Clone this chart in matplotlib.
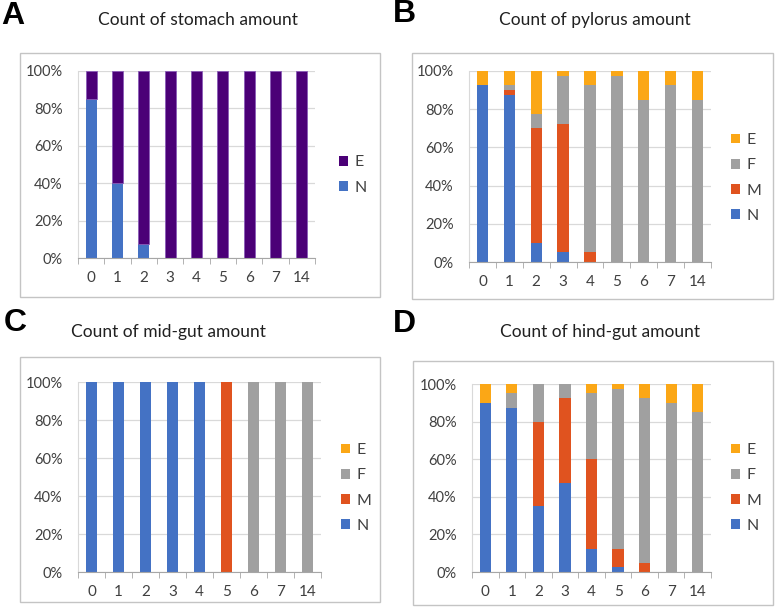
import matplotlib
matplotlib.use("Agg")
import matplotlib.pyplot as plt
import numpy as np
from matplotlib.patches import Rectangle, Patch

plt.rcParams['font.family'] = ['Lato', 'DejaVu Sans']

W, H = 776, 610

DAYS = ["0", "1", "2", "3", "4", "5", "6", "7", "14"]

# stomach (A)
A_N = [85, 40, 7.5, 0, 0, 0, 0, 0, 0]
A_E = [15, 60, 92.5, 100, 100, 100, 100, 100, 100]

# pylorus (B)
B_N = [92.5, 87.5, 10, 5, 0, 0, 0, 0, 0]
B_M = [0, 2.5, 60, 67.5, 5, 0, 0, 0, 0]
B_F = [0, 2.5, 7.5, 25, 87.5, 97.5, 85, 92.5, 85]
B_E = [7.5, 7.5, 22.5, 2.5, 7.5, 2.5, 15, 7.5, 15]

# mid-gut (C)
C_N = [100, 100, 100, 100, 100, 0, 0, 0, 0]
C_M = [0, 0, 0, 0, 0, 100, 0, 0, 0]
C_F = [0, 0, 0, 0, 0, 0, 100, 100, 100]
C_E = [0, 0, 0, 0, 0, 0, 0, 0, 0]

# hind-gut (D)
D_N = [90, 87.5, 35, 47.5, 12.5, 2.5, 0, 0, 0]
D_M = [0, 0, 45, 45, 47.5, 10, 5, 0, 0]
D_F = [0, 7.5, 20, 7.5, 35, 85, 87.5, 90, 85]
D_E = [10, 5, 0, 0, 5, 2.5, 7.5, 10, 15]

COL = {"N": "#4472C4", "M": "#E0531F", "F": "#A0A0A0", "E": "#FBA716"}
PURPLE = "#4B0077"

fig = plt.figure(figsize=(W / 100, H / 100), dpi=100)


def fx(px):
    return px / W


def fy(py):
    return 1 - py / H


def add_box(l, t, r, b):
    fig.patches.append(Rectangle((fx(l), fy(b)), fx(r) - fx(l), fy(t) - fy(b),
                                 transform=fig.transFigure, fill=False,
                                 edgecolor="#C4C4C4", lw=1.0))


def make_axes(l, t, r, b):
    ax = fig.add_axes([fx(l), fy(b), fx(r) - fx(l), fy(t) - fy(b)])
    ax.set_xlim(-0.5, 8.5)
    ax.set_ylim(0, 100)
    ax.set_yticks(range(0, 101, 20))
    ax.set_yticklabels(["{}%".format(v) for v in range(0, 101, 20)])
    ax.set_xticks(range(9))
    ax.set_xticklabels(DAYS)
    ax.set_xticks(np.arange(-0.5, 9, 1), minor=True)
    ax.tick_params(axis="x", which="major", length=0, pad=9, labelsize=11, colors="#404040")
    ax.tick_params(axis="x", which="minor", length=4, color="#A6A6A6", direction="out")
    ax.tick_params(axis="y", length=0, pad=11, labelsize=10.5, colors="#404040")
    ax.grid(axis="y", color="#D9D9D9", lw=0.9)
    ax.set_axisbelow(True)
    for s in ["top", "right"]:
        ax.spines[s].set_visible(False)
    ax.spines["left"].set_color("#D9D9D9")
    ax.spines["bottom"].set_color("#A6A6A6")
    return ax


def stack(ax, series, colors, edges=None):
    x = np.arange(len(DAYS))
    bottom = np.zeros(len(DAYS))
    for i, (vals, c) in enumerate(zip(series, colors)):
        ec = edges[i] if edges else "none"
        ax.bar(x, vals, 0.42, bottom=bottom, color=c, edgecolor=ec, lw=0.6)
        bottom += np.array(vals)


def legend(ax, labels, colors, x, yc):
    handles = [Patch(facecolor=c, edgecolor="none") for c in colors]
    ax.legend(handles, labels, loc="center left", bbox_to_anchor=(fx(x), fy(yc)),
              bbox_transform=fig.transFigure, frameon=False, fontsize=11.5,
              handlelength=0.55, handleheight=0.55, handletextpad=0.4,
              labelspacing=0.7, borderpad=0, borderaxespad=0,
              labelcolor="#404040")


def header(letter, lx, ly, title, tx, ty):
    fig.text(fx(lx), fy(ly), letter, fontsize=23, fontweight="bold",
             family="Liberation Sans", ha="left", va="center")
    fig.text(fx(tx), fy(ty), title, fontsize=12.5, ha="center", va="center",
             color="#202020")


# A
add_box(20, 53, 380, 297)
axA = make_axes(78, 71, 315, 258)
stack(axA, [A_N, A_E], [COL["N"], PURPLE], edges=["none", "#8A5CB8"])
legend(axA, ["E", "N"], [PURPLE, COL["N"]], 339, 175)
header("A", 1, 16, "Count of stomach amount", 198, 20)

# B
add_box(412, 53, 773, 299)
axB = make_axes(469, 71, 711, 262)
stack(axB, [B_N, B_M, B_F, B_E], [COL["N"], COL["M"], COL["F"], COL["E"]])
legend(axB, ["E", "F", "M", "N"], [COL["E"], COL["F"], COL["M"], COL["N"]], 731, 178)
header("B", 393, 14, "Count of pylorus amount", 595, 20)

# C
add_box(20, 357, 380, 602)
axC = make_axes(78, 382, 321, 572)
stack(axC, [C_N, C_M, C_F, C_E], [COL["N"], COL["M"], COL["F"], COL["E"]])
legend(axC, ["E", "F", "M", "N"], [COL["E"], COL["F"], COL["M"], COL["N"]], 341, 488)
header("C", 4, 323, "Count of mid-gut amount", 168, 332)

# D
add_box(413, 361, 773, 605)
axD = make_axes(472, 384, 711, 572)
stack(axD, [D_N, D_M, D_F, D_E], [COL["N"], COL["M"], COL["F"], COL["E"]])
legend(axD, ["E", "F", "M", "N"], [COL["E"], COL["F"], COL["M"], COL["N"]], 731, 488)
header("D", 393, 324, "Count of hind-gut amount", 600, 332)

fig.savefig("out.png", dpi=100)
